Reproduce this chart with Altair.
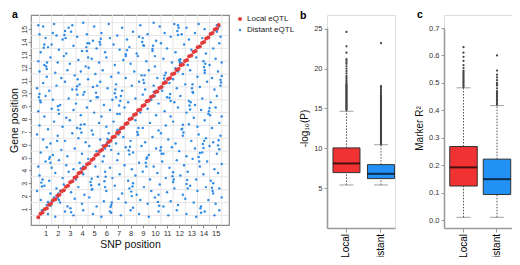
import altair as alt
import pandas as pd

FONT = "Liberation Sans"

# ---------------- data ----------------
panel_labels = ["a", "b", "c"]
chrom_ticks = [1, 2, 3, 4, 5, 6, 7, 8, 9, 10, 11, 12, 13, 14, 15]
chrom_bounds = [0.5, 1.5, 2.5, 3.5, 4.5, 5.5, 6.5, 7.5, 8.5, 9.5, 10.5, 11.5, 12.5, 13.5, 14.5, 15.5]
eqtl_types = ["Local eQTL", "Distant eQTL"]

blue_points = [
    (0.4,15.3),(0.8,15.2),(1.7,15.4),(2.9,15.1),(3.2,15.3),(4.1,15.5),(5.0,15.2),(6.2,15.4),(7.3,15.1),(8.8,15.3),(9.9,15.5),(10.4,15.2),(11.6,15.4),(11.9,15.3),(12.6,15.1),(13.6,15.4),(14.1,15.0),(15.3,15.2),
    (0.5,14.6),(1.0,14.3),(1.6,14.7),(1.9,14.5),(2.4,14.2),(3.1,14.8),(3.6,14.4),(4.4,14.6),(4.9,14.1),(5.6,14.7),(6.3,14.3),(6.9,14.5),(7.7,14.2),(8.2,14.8),(8.7,14.4),(9.4,14.6),(10.1,14.1),(10.8,14.7),(11.3,14.4),(12.2,14.6),(12.8,14.2),(13.3,14.7),(13.9,14.3),(14.6,14.6),(15.1,14.8),(15.4,14.4),
    (0.6,13.2),(1.2,13.6),(1.5,13.8),(2.1,13.4),(2.7,13.1),(3.3,13.7),(4.0,13.3),(4.6,13.9),(5.2,13.5),(5.9,13.2),(6.6,13.8),(7.1,13.4),(7.9,13.6),(8.5,13.1),(9.1,13.7),(9.8,13.3),(10.5,13.9),(11.0,13.5),(11.7,13.2),(12.4,13.8),(13.0,13.4),(13.6,13.6),(14.2,13.1),(14.8,13.5),(15.3,13.9),
    (0.4,12.5),(0.9,12.2),(1.4,12.8),(2.0,12.4),(2.5,12.9),(3.0,12.3),(3.7,12.6),(4.3,12.1),(4.8,12.7),(5.4,12.4),(6.0,12.8),(6.7,12.2),(7.4,12.6),(8.0,12.3),(8.6,12.9),(9.3,12.5),(10.0,12.1),(10.7,12.7),(11.4,12.4),(12.0,12.6),(12.7,12.2),(13.4,12.8),(14.0,12.5),(14.5,12.2),(15.0,12.7),(15.5,12.4),
    (0.5,11.7),(1.1,11.3),(1.8,11.6),(2.3,11.2),(2.8,11.8),(3.4,11.4),(3.9,11.7),(4.5,11.1),(5.1,11.5),(5.7,11.8),(6.4,11.3),(7.0,11.6),(7.6,11.2),(8.3,11.7),(8.9,11.4),(9.5,11.8),(10.2,11.2),(10.9,11.6),(11.5,11.1),(12.3,11.5),(12.9,11.8),(13.5,11.3),(14.1,11.6),(14.7,11.2),(15.2,11.7),
    (0.3,10.4),(0.8,10.8),(1.3,10.2),(1.9,10.6),(2.6,10.9),(3.2,10.3),(3.8,10.7),(4.2,10.1),(4.9,10.5),(5.5,10.9),(6.1,10.4),(6.8,10.7),(7.3,10.2),(8.1,10.6),(8.7,10.9),(9.2,10.3),(9.9,10.6),(10.6,10.2),(11.2,10.8),(11.8,10.4),(12.5,10.7),(13.1,10.1),(13.7,10.5),(14.3,10.9),(14.9,10.3),(15.4,10.6),
    (0.6,9.3),(1.0,9.8),(1.6,9.5),(2.2,9.1),(2.9,9.6),(3.5,9.2),(4.1,9.9),(4.7,9.4),(5.3,9.7),(5.8,9.1),(6.5,9.5),(7.2,9.8),(7.8,9.3),(8.4,9.6),(9.0,9.9),(9.7,9.5),(10.3,9.2),(11.0,9.7),(11.6,9.3),(12.1,9.8),(12.8,9.4),(13.3,9.1),(13.9,9.6),(14.6,9.3),(15.1,9.8),
    (0.4,8.6),(0.9,8.2),(1.5,8.8),(2.1,8.4),(2.7,8.1),(3.3,8.7),(3.9,8.3),(4.4,8.9),(5.0,8.5),(5.6,8.2),(6.3,8.7),(6.9,8.4),(7.5,8.9),(8.1,8.1),(8.8,8.5),(9.4,8.8),(10.1,8.3),(10.8,8.6),(11.3,8.2),(11.9,8.9),(12.6,8.5),(13.2,8.1),(13.8,8.7),(14.4,8.4),(15.0,8.9),(15.5,8.2),
    (0.5,7.5),(1.2,7.2),(1.7,7.8),(2.4,7.4),(3.0,7.9),(3.6,7.3),(4.2,7.6),(4.8,7.1),(5.4,7.7),(6.0,7.4),(6.6,7.8),(7.1,7.2),(7.7,7.6),(8.4,7.9),(9.0,7.3),(9.6,7.7),(10.3,7.1),(10.9,7.5),(11.5,7.8),(12.2,7.2),(12.8,7.6),(13.5,7.4),(14.1,7.9),(14.7,7.3),(15.3,7.7),
    (0.3,6.8),(0.8,6.4),(1.4,6.1),(2.0,6.7),(2.6,6.3),(3.2,6.9),(3.7,6.5),(4.3,6.2),(4.9,6.8),(5.5,6.4),(6.2,6.9),(6.8,6.1),(7.4,6.6),(8.0,6.3),(8.6,6.8),(9.2,6.2),(9.8,6.6),(10.5,6.9),(11.1,6.4),(11.7,6.1),(12.3,6.7),(13.0,6.3),(13.6,6.8),(14.2,6.5),(14.8,6.2),(15.4,6.7),
    (0.6,5.4),(1.1,5.8),(1.6,5.2),(2.3,5.6),(2.8,5.1),(3.4,5.7),(4.0,5.3),(4.6,5.9),(5.2,5.5),(5.8,5.1),(6.4,5.6),(7.0,5.3),(7.6,5.8),(8.2,5.4),(8.9,5.9),(9.5,5.2),(10.1,5.7),(10.7,5.3),(11.4,5.8),(12.0,5.5),(12.6,5.1),(13.3,5.7),(13.9,5.4),(14.5,5.9),(15.1,5.3),
    (0.4,4.3),(1.0,4.7),(1.5,4.2),(2.1,4.8),(2.7,4.4),(3.3,4.1),(3.8,4.6),(4.5,4.9),(5.1,4.3),(5.7,4.7),(6.3,4.2),(6.9,4.8),(7.5,4.4),(8.1,4.1),(8.7,4.6),(9.3,4.9),(9.9,4.3),(10.6,4.7),(11.2,4.2),(11.8,4.8),(12.4,4.4),(13.1,4.9),(13.7,4.3),(14.3,4.7),(14.9,4.1),(15.5,4.5),
    (0.5,3.6),(1.3,3.2),(1.8,3.8),(2.4,3.4),(2.9,3.9),(3.5,3.3),(4.1,3.7),(4.7,3.1),(5.3,3.5),(5.9,3.9),(6.5,3.4),(7.1,3.7),(7.8,3.2),(8.4,3.6),(9.0,3.9),(9.6,3.3),(10.2,3.8),(10.9,3.4),(11.5,3.1),(12.1,3.6),(12.7,3.9),(13.4,3.3),(14.0,3.7),(14.6,3.2),(15.2,3.8),
    (0.3,2.4),(0.9,2.8),(1.4,2.2),(1.9,2.6),(2.5,2.9),(3.1,2.3),(3.7,2.7),(4.2,2.1),(4.8,2.5),(5.4,2.9),(6.0,2.4),(6.7,2.8),(7.3,2.2),(7.9,2.6),(8.5,2.1),(9.1,2.7),(9.7,2.4),(10.4,2.9),(11.0,2.3),(11.6,2.6),(12.3,2.1),(12.9,2.8),(13.5,2.4),(14.2,2.7),(14.8,2.2),(15.3,2.6),
    (0.6,1.7),(1.1,1.3),(1.7,1.9),(2.2,1.5),(2.8,1.2),(3.4,1.8),(4.0,1.4),(4.6,1.9),(5.2,1.2),(5.8,1.6),(6.4,1.3),(7.0,1.8),(7.6,1.5),(8.2,1.1),(8.8,1.7),(9.4,1.4),(10.0,1.9),(10.7,1.2),(11.3,1.6),(11.9,1.3),(12.5,1.8),(13.2,1.5),(13.8,1.2),(14.4,1.7),(15.0,1.4),(15.5,1.9),
    (0.7,0.9),(1.2,0.6),(1.8,0.4),(2.6,0.8),(3.3,0.5),(4.1,0.9),(4.9,0.6),(5.6,0.4),(6.3,0.8),(7.2,0.5),(8.0,0.9),(8.7,0.6),(9.5,0.4),(10.3,0.8),(11.1,0.5),(11.8,0.9),(12.6,0.6),(13.4,0.4),(14.1,0.8),(14.9,0.5),(15.3,0.9),
]

blue_clumps = [
    (1.05,12.1),(1.1,11.9),(1.12,12.4),(1.3,4.9),(1.35,5.05),(1.4,4.6),(1.9,2.05),(2.0,1.85),(2.05,2.2),(2.1,1.7),(2.2,2.4),(1.95,6.3),
    (2.02,9.0),(2.05,8.7),(3.55,10.3),(3.6,10.55),(3.62,9.9),(3.65,11.1),(4.35,13.6),(4.4,13.3),(4.45,13.9),(4.5,12.8),(4.55,12.0),(3.05,1.05),
    (3.1,0.75),(5.15,10.05),(5.2,9.7),(5.25,10.6),(5.85,3.15),(5.9,2.7),(5.95,3.5),(6.05,6.15),(6.1,6.45),(6.25,5.9),(6.35,1.15),(6.4,0.7),
    (6.45,1.5),(7.05,9.05),(7.1,8.4),(7.15,9.4),(7.6,13.05),(7.62,12.9),(7.7,13.35),(8.05,2.35),(8.1,2.0),(8.15,2.75),(8.2,3.0),(8.55,7.0),
    (8.6,6.75),(8.65,7.3),(9.05,11.05),(9.1,10.8),(9.15,11.4),(9.25,4.6),(9.3,4.3),(9.35,5.0),(9.8,13.45),(9.85,13.7),(10.0,12.9),(10.25,1.55),
    (10.3,2.1),(10.35,1.25),(10.45,5.55),(10.5,5.8),(10.55,5.3),(11.2,9.65),(11.25,9.95),(11.3,9.4),(11.45,3.55),(11.5,3.85),(11.55,3.3),(12.05,12.45),
    (12.08,12.3),(12.1,12.65),(12.2,12.35),(12.25,7.25),(12.3,7.55),(12.35,6.95),(12.6,2.95),(12.65,3.25),(12.7,2.6),(13.05,10.4),(13.1,10.7),(13.15,10.05),
    (13.6,5.05),(13.65,4.7),(13.7,5.35),(13.75,1.05),(13.8,0.7),(14.05,12.05),(14.1,11.8),(14.15,12.3),(14.45,8.6),(14.5,8.85),(14.55,8.3),(14.7,2.65),
    (14.75,2.4),(14.8,3.0),(15.05,14.9),(15.1,15.3),(15.15,15.0),(15.2,5.95),(15.25,6.35),(15.3,5.65),(0.45,9.7),(0.5,9.95),(0.55,9.45),(0.65,3.05),
    (0.7,2.75),(0.75,3.3),(0.85,13.55),(0.9,13.8),(2.55,14.55),(2.6,14.85),(2.65,14.3),(3.85,7.25),(3.9,7.55),(3.95,6.95),(4.75,2.85),(4.8,3.35),
    (4.85,2.55),(5.45,14.0),(5.5,13.8),(5.55,14.25),(6.7,10.0),(6.75,10.3),(6.8,9.7),(7.85,5.55),(7.9,5.25),(7.95,5.85),(8.95,14.0),(9.0,14.3),
    (9.05,13.75),(10.75,11.15),(10.8,11.4),(10.85,10.95),(11.85,14.85),(11.9,14.55),(11.95,15.1),(12.85,9.05),(12.9,8.75),(12.95,9.3),(13.95,6.05),(14.0,5.75),
    (14.05,6.3),(15.4,11.05),(15.45,10.85),(15.5,11.35),(4.0,3.85),(4.1,4.3),(3.9,4.15),(6.9,7.15),(7.0,6.8),(7.1,7.0),(9.9,10.1),(10.0,9.8),
    (10.1,10.2),(11.7,11.95),(11.9,11.7),(5.7,5.95),(5.9,5.7),(1.4,1.25),(1.5,1.6),(1.2,1.55),
]

red_points = [
    (0.40,0.35),(0.58,0.62),(0.75,0.72),(0.92,0.98),(1.10,1.05),(1.28,1.33),(1.45,1.40),(1.62,1.68),(1.80,1.76),(1.98,2.03),
    (2.15,2.10),(2.33,2.38),(2.50,2.46),(2.68,2.72),(2.85,2.80),(3.02,3.08),(3.20,3.15),(3.38,3.42),(3.55,3.50),(3.72,3.78),
    (3.90,3.86),(4.08,4.12),(4.25,4.20),(4.42,4.48),(4.60,4.55),(4.78,4.82),(4.95,4.90),(5.12,5.18),(5.30,5.25),(5.48,5.52),
    (5.65,5.60),(5.82,5.88),(6.00,5.95),(6.18,6.22),(6.35,6.30),(6.52,6.58),(6.70,6.65),(6.88,6.92),(7.05,7.00),(7.22,7.28),
    (7.40,7.35),(7.58,7.62),(7.75,7.70),(7.92,7.98),(8.10,8.05),(8.28,8.32),(8.45,8.40),(8.62,8.68),(8.80,8.75),(8.98,9.02),
    (9.15,9.10),(9.32,9.38),(9.50,9.45),(9.68,9.72),(9.85,9.80),(10.02,10.08),(10.20,10.15),(10.38,10.42),(10.55,10.50),(10.72,10.78),
    (10.90,10.85),(11.08,11.12),(11.25,11.20),(11.42,11.48),(11.60,11.55),(11.78,11.82),(11.95,11.90),(12.12,12.18),(12.30,12.25),(12.48,12.52),
    (12.65,12.60),(12.82,12.88),(13.00,12.95),(13.18,13.22),(13.35,13.30),(13.52,13.58),(13.70,13.65),(13.88,13.92),(14.05,14.00),(14.22,14.28),
    (14.40,14.35),(14.58,14.62),(14.75,14.70),(14.92,14.98),(15.10,15.05),(15.25,15.32),
]

box_groups = ["Local", "Distant"]
box_colors = ["#F03232", "#2291F5"]

# panel b : -log10(P)
b_lower = [5.4, 5.4]
b_q1 = [6.95, 6.2]
b_median = [8.1, 6.8]
b_q3 = [10.05, 7.95]
b_upper = [14.65, 10.45]
b_out_local = [14.8, 14.9, 15.0, 15.1, 15.2, 15.3, 15.4, 15.5, 15.6, 15.7, 15.8, 15.9, 16.0, 16.1, 16.2,
                16.3, 16.4, 16.5, 16.6, 16.7, 16.8, 16.9, 17.0, 17.1, 17.2, 17.3, 17.4, 17.5, 17.6, 17.7,
                17.8, 17.9, 18.0, 18.1, 18.3, 18.5, 18.7, 18.9, 19.1, 19.4, 19.7, 20.0, 20.3, 20.6, 20.8,
                21.0, 21.2, 22.0, 22.8, 24.6]
b_out_distant = [10.5, 10.6, 10.7, 10.8, 10.9, 11.0, 11.1, 11.2, 11.3, 11.4, 11.5, 11.6, 11.7, 11.8, 11.9,
                 12.0, 12.1, 12.2, 12.3, 12.4, 12.5, 12.6, 12.7, 12.8, 12.9, 13.0, 13.1, 13.2, 13.3, 13.4,
                 13.5, 13.6, 13.7, 13.8, 13.9, 14.0, 14.1, 14.2, 14.3, 14.4, 14.5, 14.6, 14.7, 14.8, 14.9,
                 15.0, 15.1, 15.2, 15.3, 15.4, 15.5, 15.6, 15.7, 15.8, 15.9, 16.0, 16.1, 16.2, 16.3, 16.4,
                 16.5, 16.6, 16.8, 17.0, 17.2, 17.4, 17.6, 17.8, 23.2]
b_ticks = [5, 10, 15, 20, 25]

# panel c : marker R^2
c_lower = [0.01, 0.01]
c_q1 = [0.124, 0.093]
c_median = [0.192, 0.149]
c_q3 = [0.268, 0.222]
c_upper = [0.482, 0.417]
c_out_local = [0.485, 0.49, 0.495, 0.5, 0.505, 0.51, 0.515, 0.52, 0.525, 0.53, 0.535, 0.54, 0.545,
               0.555, 0.565, 0.58, 0.595, 0.61, 0.63]
c_out_distant = [0.42, 0.425, 0.43, 0.435, 0.44, 0.445, 0.45, 0.455, 0.46, 0.465, 0.47, 0.48, 0.49,
                 0.495, 0.5, 0.51, 0.52, 0.53, 0.545, 0.6]
c_ticks = [0.0, 0.1, 0.2, 0.3, 0.4, 0.5, 0.6, 0.7]

# ---------------- panel a ----------------
scatter = pd.DataFrame(
    [{"snp": p[0], "gene": p[1], "type": eqtl_types[1]} for p in blue_points + blue_clumps]
    + [{"snp": p[0], "gene": p[1], "type": eqtl_types[0]} for p in red_points]
)
bounds_df = pd.DataFrame({"b": chrom_bounds})

xs = alt.Scale(domain=[-0.2, 16.1], nice=False, zero=False)
ys = alt.Scale(domain=[-0.25, 16.1], nice=False, zero=False)

ax_x_a = alt.Axis(values=chrom_ticks, title="SNP position", domain=False, grid=False, tickSize=3,
                  tickColor="#888", labelFontSize=7.5, labelColor="#333", labelPadding=1,
                  titleFontSize=10.5, titleFontWeight="normal", titleColor="#111", titlePadding=3,
                  labelOverlap=False, labelFlush=False)
ax_y_a = alt.Axis(values=chrom_ticks, title="Gene position", domain=False, grid=False, tickSize=2.5,
                  tickColor="#888", labelFontSize=7, labelColor="#333", labelPadding=1, labelAngle=-90,
                  titleFontSize=10.5, titleFontWeight="normal", titleColor="#111", titlePadding=1,
                  labelOverlap=False, labelFlush=False)

grid_v = alt.Chart(bounds_df).mark_rule(color="#e6e6e6", strokeWidth=1).encode(
    x=alt.X("b:Q", scale=xs, axis=ax_x_a))
grid_h = alt.Chart(bounds_df).mark_rule(color="#e6e6e6", strokeWidth=1).encode(
    y=alt.Y("b:Q", scale=ys, axis=ax_y_a))
pts = alt.Chart(scatter).mark_circle(opacity=1).encode(
    x=alt.X("snp:Q", scale=xs, axis=ax_x_a),
    y=alt.Y("gene:Q", scale=ys, axis=ax_y_a),
    color=alt.Color("type:N", sort=eqtl_types,
                    scale=alt.Scale(domain=eqtl_types, range=["#E23B3B", "#2E8BE6"]),
                    legend=alt.Legend(title=None, orient="right", offset=7, padding=0,
                                      symbolType="circle", symbolSize=18, symbolStrokeWidth=0,
                                      labelFontSize=8, labelColor="#222", labelOffset=3,
                                      rowPadding=3)),
    size=alt.Size("type:N", scale=alt.Scale(domain=eqtl_types, range=[16, 6]), legend=None),
)
lab_a = alt.Chart(pd.DataFrame({"t": [panel_labels[0]]})).mark_text(
    align="left", baseline="alphabetic", fontSize=10.5, fontWeight="bold", color="#000").encode(
    text="t:N", x=alt.value(-19), y=alt.value(3))

panel_a = alt.layer(grid_v, grid_h, pts, lab_a).properties(
    width=198, height=210, view=alt.ViewBackground(stroke="#8a8a8a", strokeWidth=1.2))


# ---------------- box panels ----------------
def box_panel(letter, lower, q1, med, q3, upper, out_local, out_distant, domain, ticks, title, fmt,
              width, pin, pout, align, boxw, letter_y):
    stats = pd.DataFrame({"g": box_groups, "lo": lower, "q1": q1, "med": med, "q3": q3, "hi": upper})
    outs = pd.DataFrame({"g": [box_groups[0]] * len(out_local) + [box_groups[1]] * len(out_distant),
                         "v": out_local + out_distant})
    xsc = alt.Scale(domain=box_groups, paddingInner=pin, paddingOuter=pout, align=align)
    ysc = alt.Scale(domain=domain, range=[213, 13], nice=False, zero=False)
    ax_x = alt.Axis(title=None, labelAngle=-90, labelFontSize=10, labelColor="#000", tickSize=4,
                    tickColor="#999", domainColor="#9a9a9a", domainWidth=1.6, labelPadding=1.5, grid=False)
    ax_y = alt.Axis(values=ticks, format=fmt, title=title, grid=False, tickSize=3, tickColor="#999",
                    domainColor="#9a9a9a", domainWidth=1.6, labelFontSize=7.5, labelColor="#333",
                    labelPadding=2, titleFontSize=10, titleFontWeight="normal", titleColor="#111",
                    titlePadding=4, labelFlush=False, labelOverlap=False)
    X = alt.X("g:N", scale=xsc, axis=ax_x, sort=box_groups)
    base = alt.Chart(stats)
    w_up = base.mark_rule(color="#555", strokeWidth=1, strokeDash=[1.5, 1.5]).encode(
        x=X, y=alt.Y("q3:Q", scale=ysc, axis=ax_y), y2="hi:Q")
    w_lo = base.mark_rule(color="#555", strokeWidth=1, strokeDash=[1.5, 1.5]).encode(
        x=X, y=alt.Y("lo:Q", scale=ysc, axis=ax_y), y2="q1:Q")
    cap_hi = base.mark_tick(color="#777", thickness=1, size=14).encode(
        x=X, y=alt.Y("hi:Q", scale=ysc, axis=ax_y))
    cap_lo = base.mark_tick(color="#777", thickness=1, size=14).encode(
        x=X, y=alt.Y("lo:Q", scale=ysc, axis=ax_y))
    box = base.mark_bar(stroke="#333", strokeWidth=1, width=boxw).encode(
        x=X, y=alt.Y("q1:Q", scale=ysc, axis=ax_y), y2="q3:Q",
        fill=alt.Fill("g:N", scale=alt.Scale(domain=box_groups, range=box_colors), legend=None))
    median = base.mark_tick(color="#000", thickness=2, size=boxw).encode(
        x=X, y=alt.Y("med:Q", scale=ysc, axis=ax_y))
    outliers = alt.Chart(outs).mark_circle(color="#444", size=5, opacity=1).encode(
        x=X, y=alt.Y("v:Q", scale=ysc, axis=ax_y))
    lab = alt.Chart(pd.DataFrame({"t": [letter]})).mark_text(
        align="left", baseline="alphabetic", fontSize=10.5, fontWeight="bold", color="#000").encode(
        text="t:N", x=alt.value(-27), y=alt.value(letter_y))
    return alt.layer(w_up, w_lo, cap_hi, cap_lo, box, median, outliers, lab).properties(
        width=width, height=213)


panel_b = box_panel(panel_labels[1], b_lower, b_q1, b_median, b_q3, b_upper, b_out_local, b_out_distant,
                    [0, 25.1], b_ticks, "-log\u2081\u2080(P)", "d", 68, 0.217, 0.094, 0.92, 27, 4)
panel_c = box_panel(panel_labels[2], c_lower, c_q1, c_median, c_q3, c_upper, c_out_local, c_out_distant,
                    [-0.029, 0.7], c_ticks, "Marker R\u00b2", ".1f", 68, 0.18, 0.105, 0.82, 27.5, 3)

right = alt.hconcat(panel_b, panel_c, spacing=18).resolve_scale(
    x="independent", y="independent", fill="independent")

chart = alt.hconcat(panel_a, right, spacing=3).resolve_scale(
    x="independent", y="independent", color="independent", fill="independent", size="independent"
).properties(
    autosize=alt.AutoSizeParams(type="none"),
    padding={"left": 23, "top": 7, "right": 481, "bottom": 242}
).configure_view(stroke=None).configure_axis(
    labelFont=FONT, titleFont=FONT
).configure_legend(labelFont=FONT).configure_text(font=FONT).configure(background="white")

chart.save("out.html", embed_options={"renderer": "svg", "actions": False})
